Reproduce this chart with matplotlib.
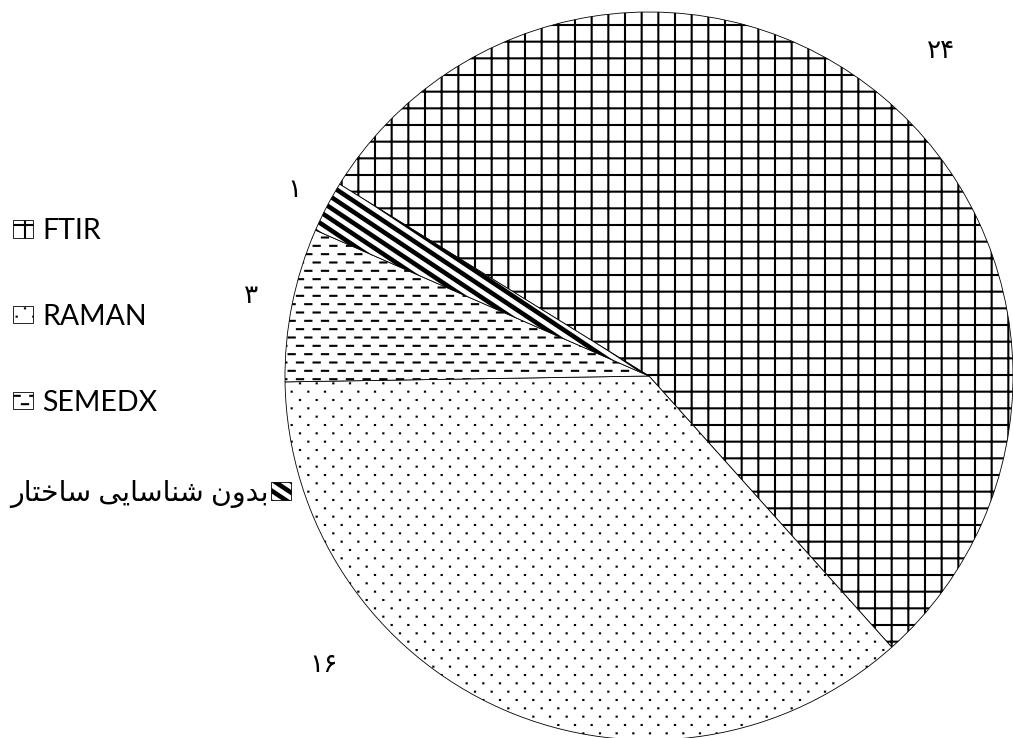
import numpy as np
import matplotlib
matplotlib.use("Agg")
import matplotlib.pyplot as plt
import matplotlib.hatch as mhatch
import matplotlib.patches as mpatches
from matplotlib.path import Path

# data
labels = ["FTIR", "RAMAN", "SEMEDX", "بدون شناسایی ساختار"]
counts = [24, 16, 3, 1]
count_text = ["۲۴", "۱۶", "۳", "۱"]
hatches = ["+", ".", "o", "\\"]

# label placement (radius multiples, angle shift from wedge middle in deg)
label_dist = [1.20, 1.197, 1.115, 1.10]
label_shift = [-2.0, -24.8, 0.0, 0.0]

W, H = 1013, 738


# ---- small persian shaper (matplotlib has no arabic shaping / bidi) ----
FORMS = {
    "\u0627": ("\uFE8D", "\uFE8E"),                       # alef
    "\u0628": ("\uFE8F", "\uFE90", "\uFE91", "\uFE92"),   # beh
    "\u062A": ("\uFE95", "\uFE96", "\uFE97", "\uFE98"),   # teh
    "\u062E": ("\uFEA5", "\uFEA6", "\uFEA7", "\uFEA8"),   # khah
    "\u062F": ("\uFEA9", "\uFEAA"),                       # dal
    "\u0631": ("\uFEAD", "\uFEAE"),                       # reh
    "\u0633": ("\uFEB1", "\uFEB2", "\uFEB3", "\uFEB4"),   # seen
    "\u0634": ("\uFEB5", "\uFEB6", "\uFEB7", "\uFEB8"),   # sheen
    "\u0646": ("\uFEE5", "\uFEE6", "\uFEE7", "\uFEE8"),   # noon
    "\u0648": ("\uFEED", "\uFEEE"),                       # waw
    "\u06CC": ("\uFEEF", "\uFEF0", "\uFEF3", "\uFEF4"),   # farsi yeh
    "\u064A": ("\uFEEF", "\uFEF0", "\uFEF3", "\uFEF4"),   # arabic yeh
}


def shape_fa(s):
    out = []
    for i, ch in enumerate(s):
        f = FORMS.get(ch)
        if f is None:
            out.append(ch)
            continue
        prev = s[i - 1] if i > 0 else ""
        nxt = s[i + 1] if i + 1 < len(s) else ""
        jp = prev in FORMS and len(FORMS[prev]) == 4
        jn = len(f) == 4 and nxt in FORMS
        if jp and jn:
            out.append(f[3])
        elif jp:
            out.append(f[1])
        elif jn:
            out.append(f[2])
        else:
            out.append(f[0])
    return "".join(reversed(out))


# ---- custom hatch patterns (unit square = 1 inch tile) ----
def staggered_segments(n, half, yoff):
    # 2*n rows per tile, n items per row, odd rows shifted by half a step
    segs = []
    rows = 2 * n
    for j in range(rows + 1):
        shift = 0.5 if j % 2 else 0.0
        y = (j + yoff) / rows
        for k in range(-1, n + 1):
            c = (k + shift) / n
            segs.append((c - half, c + half, y))
    return segs


class DotRows(mhatch.HatchPatternBase):
    # tiny square dots (very short strokes with square caps)
    def __init__(self, hatch, density):
        n = hatch.count(".") * density
        self.segs = staggered_segments(n, 0.0008, 0.0) if n else []
        self.num_vertices = 2 * len(self.segs)

    def set_vertices_and_codes(self, vertices, codes):
        for i, (x0, x1, y) in enumerate(self.segs):
            vertices[2 * i] = (x0, y)
            vertices[2 * i + 1] = (x1, y)
            codes[2 * i] = Path.MOVETO
            codes[2 * i + 1] = Path.LINETO


class DashRows(DotRows):
    # staggered short horizontal dashes
    def __init__(self, hatch, density):
        n = hatch.count("o") * density
        self.segs = staggered_segments(n, 0.031, 0.5) if n else []
        self.num_vertices = 2 * len(self.segs)


class WideStripes(mhatch.HatchPatternBase):
    # filled bands along 2x + 3y = c, going down to the right
    def __init__(self, hatch, density):
        n = hatch.count("\\")
        self.bands = [k / 3 for k in range(-3, 18)] if n else []
        self.num_vertices = 5 * len(self.bands)

    def set_vertices_and_codes(self, vertices, codes):
        w = 0.09
        x0, x1 = -2.0, 3.0
        for i, c in enumerate(self.bands):
            vertices[5 * i:5 * i + 5] = [
                (x0, (c - 2 * x0) / 3), (x1, (c - 2 * x1) / 3),
                (x1, (c + w - 2 * x1) / 3), (x0, (c + w - 2 * x0) / 3),
                (0, 0)]
            codes[5 * i:5 * i + 5] = [Path.MOVETO, Path.LINETO, Path.LINETO,
                                      Path.LINETO, Path.CLOSEPOLY]


mhatch._hatch_types[:] = [mhatch.HorizontalHatch, mhatch.VerticalHatch,
                          DotRows, DashRows, WideStripes]

plt.rcParams["hatch.linewidth"] = 1.5
plt.rcParams["hatch.color"] = "black"

fig = plt.figure(figsize=(W / 100, H / 100), dpi=100)
ax = fig.add_axes([0, 0, 1, 1])

cx, cy, R = 649, H - 376, 364
wedges, _ = ax.pie(counts, startangle=148.2, counterclock=False,
                   center=(cx, cy), radius=R,
                   wedgeprops=dict(facecolor="white", edgecolor="black",
                                   linewidth=0.6))
for w, h in zip(wedges, hatches):
    w.set_hatch(h)

for w, txt, d, sh in zip(wedges, count_text, label_dist, label_shift):
    ang = np.deg2rad((w.theta1 + w.theta2) / 2 + sh)
    ax.text(cx + d * R * np.cos(ang), cy + d * R * np.sin(ang), txt,
            ha="center", va="center", fontsize=19, family="DejaVu Sans")

ax.set_xlim(0, W)
ax.set_ylim(0, H)
ax.set_aspect("equal")
ax.axis("off")

handles = [mpatches.Patch(facecolor="white", edgecolor="black",
                          linewidth=0.6, hatch=h) for h in hatches]
prop = dict(family=["Lato", "DejaVu Sans"], size=20.5)
common = dict(frameon=False, prop=prop, handlelength=0.7, handleheight=0.55,
              borderpad=0, borderaxespad=0)

leg1 = ax.legend(handles[:3], labels[:3], loc="upper left",
                 bbox_to_anchor=(13 / W, 1 - 218 / H), handletextpad=0.32,
                 labelspacing=2.1, **common)
ax.add_artist(leg1)
ax.legend(handles[3:], [shape_fa(labels[3])], loc="center left",
          bbox_to_anchor=(10 / W, 1 - 494 / H), markerfirst=False,
          handletextpad=0.1, **common)

fig.savefig("out.png", dpi=100)
